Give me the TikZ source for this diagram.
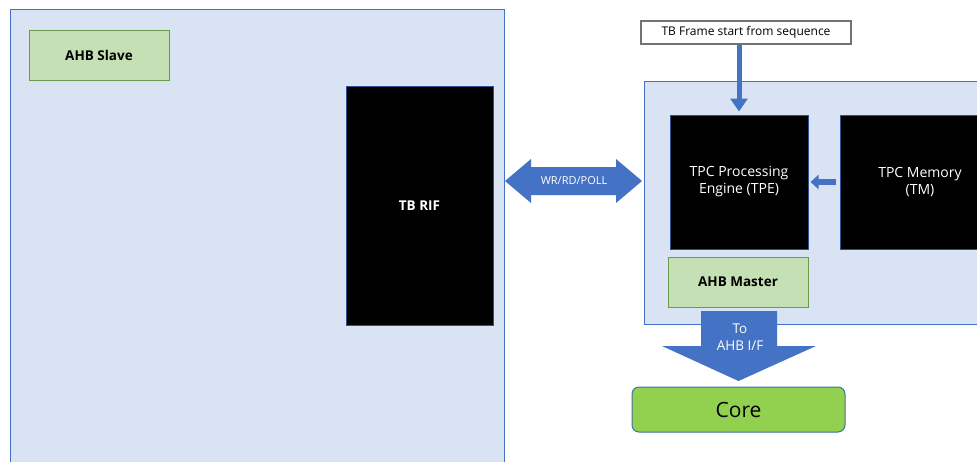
\documentclass[tikz,border=0pt]{standalone}
\usepackage{fontspec}
\setmainfont{Open Sans}
\usetikzlibrary{arrows.meta,calc}
\definecolor{bgblue}{HTML}{DAE3F3}
\definecolor{bordblue}{HTML}{4472C4}
\definecolor{darkblue}{HTML}{2F528F}
\definecolor{greenfill}{HTML}{C5E0B4}
\definecolor{greenbord}{HTML}{6A9B4A}
\definecolor{arrowblue}{HTML}{4472C4}
\definecolor{corefill}{HTML}{92D050}
\definecolor{coreborder}{HTML}{41719C}
\tikzset{
  region/.style={fill=bgblue,draw=bordblue,line width=1pt},
  greenbox/.style={fill=greenfill,draw=greenbord,line width=1pt,font=\bfseries\fontsize{13.5}{16}\selectfont},
  blackbox/.style={fill=black,draw=darkblue,line width=1pt,text=white,align=center,font=\fontsize{14}{17}\selectfont},
  blockarrow/.style={fill=arrowblue,draw=none},
}
\begin{document}
\begin{tikzpicture}[x=1pt,y=-1pt]
\useasboundingbox (0,0) rectangle (977,461);
\fill[white] (0,0) rectangle (977,461);
% regions
\draw[region] (10,475) -- (10,9) -- (504,9) -- (504,475);
\coordinate (leftE) at (504,181);
\draw[region] (990,81) -- (644,81) -- (644,324) -- (990,324);
\coordinate (rightW) at (644,181);
% left contents
\node[greenbox,minimum width=140,minimum height=50] (slave) at (99,55) {AHB Slave};
\node[blackbox,font=\bfseries\fontsize{13.5}{16}\selectfont,minimum width=147,minimum height=239] (rif) at (419.5,205.5) {TB RIF};
% right contents
\node[fill=white,draw=black!55,line width=1.2pt,minimum width=210,minimum height=23,inner sep=0pt,font=\fontsize{12}{14}\selectfont] (frame) at (746,32.5) {TB Frame start from sequence};
\node[blackbox,minimum width=138,minimum height=134] (tpe) at (739,182) {TPC Processing\\Engine (TPE)};
\node[blackbox,minimum width=160,minimum height=134] (tm) at (920,182) {TPC Memory\\(TM)};
\node[greenbox,minimum width=140,minimum height=50] (master) at (738,282) {AHB Master};
\node[fill=corefill,draw=coreborder,line width=1pt,rounded corners=7pt,minimum width=213,minimum height=45,font=\fontsize{21}{24}\selectfont] (core) at (738.5,409.5) {Core};
% frame -> tpe arrow
\draw[arrowblue,line width=5pt,-{Triangle[width=17pt,length=13pt]},shorten >=3pt] (frame.south -| tpe.north) -- (tpe.north);
% tm -> tpe arrow
\draw[arrowblue,line width=6pt,-{Triangle[width=14pt,length=8pt]},shorten >=2pt,shorten <=4pt] (tm.west) -- (tpe.east);
% double arrow WR/RD/POLL
\fill[blockarrow] ($(leftE)+(1,0)$) -- ++(26,-22) -- ++(0,8) -- ($(rightW)+(-28,-14)$) -- ++(0,-8) -- ($(rightW)+(-2,0)$) -- ++(-26,22) -- ++(0,-8) -- ($(leftE)+(27,14)$) -- ++(0,8) -- cycle;
\node[text=white,font=\fontsize{11}{12}\selectfont] (wr) at ($(leftE)!0.5!(rightW)$) {WR/RD/POLL};
% down arrow to core
\fill[blockarrow] (701,311) -- (777,311) -- (777,346) -- (816,346) -- (core.north |- 0,381) -- (662,346) -- (701,346) -- cycle;
\node[text=white,align=center,font=\fontsize{13.5}{17}\selectfont] (toahb) at (740,337) {To\\AHB I/F};
\end{tikzpicture}
\end{document}
